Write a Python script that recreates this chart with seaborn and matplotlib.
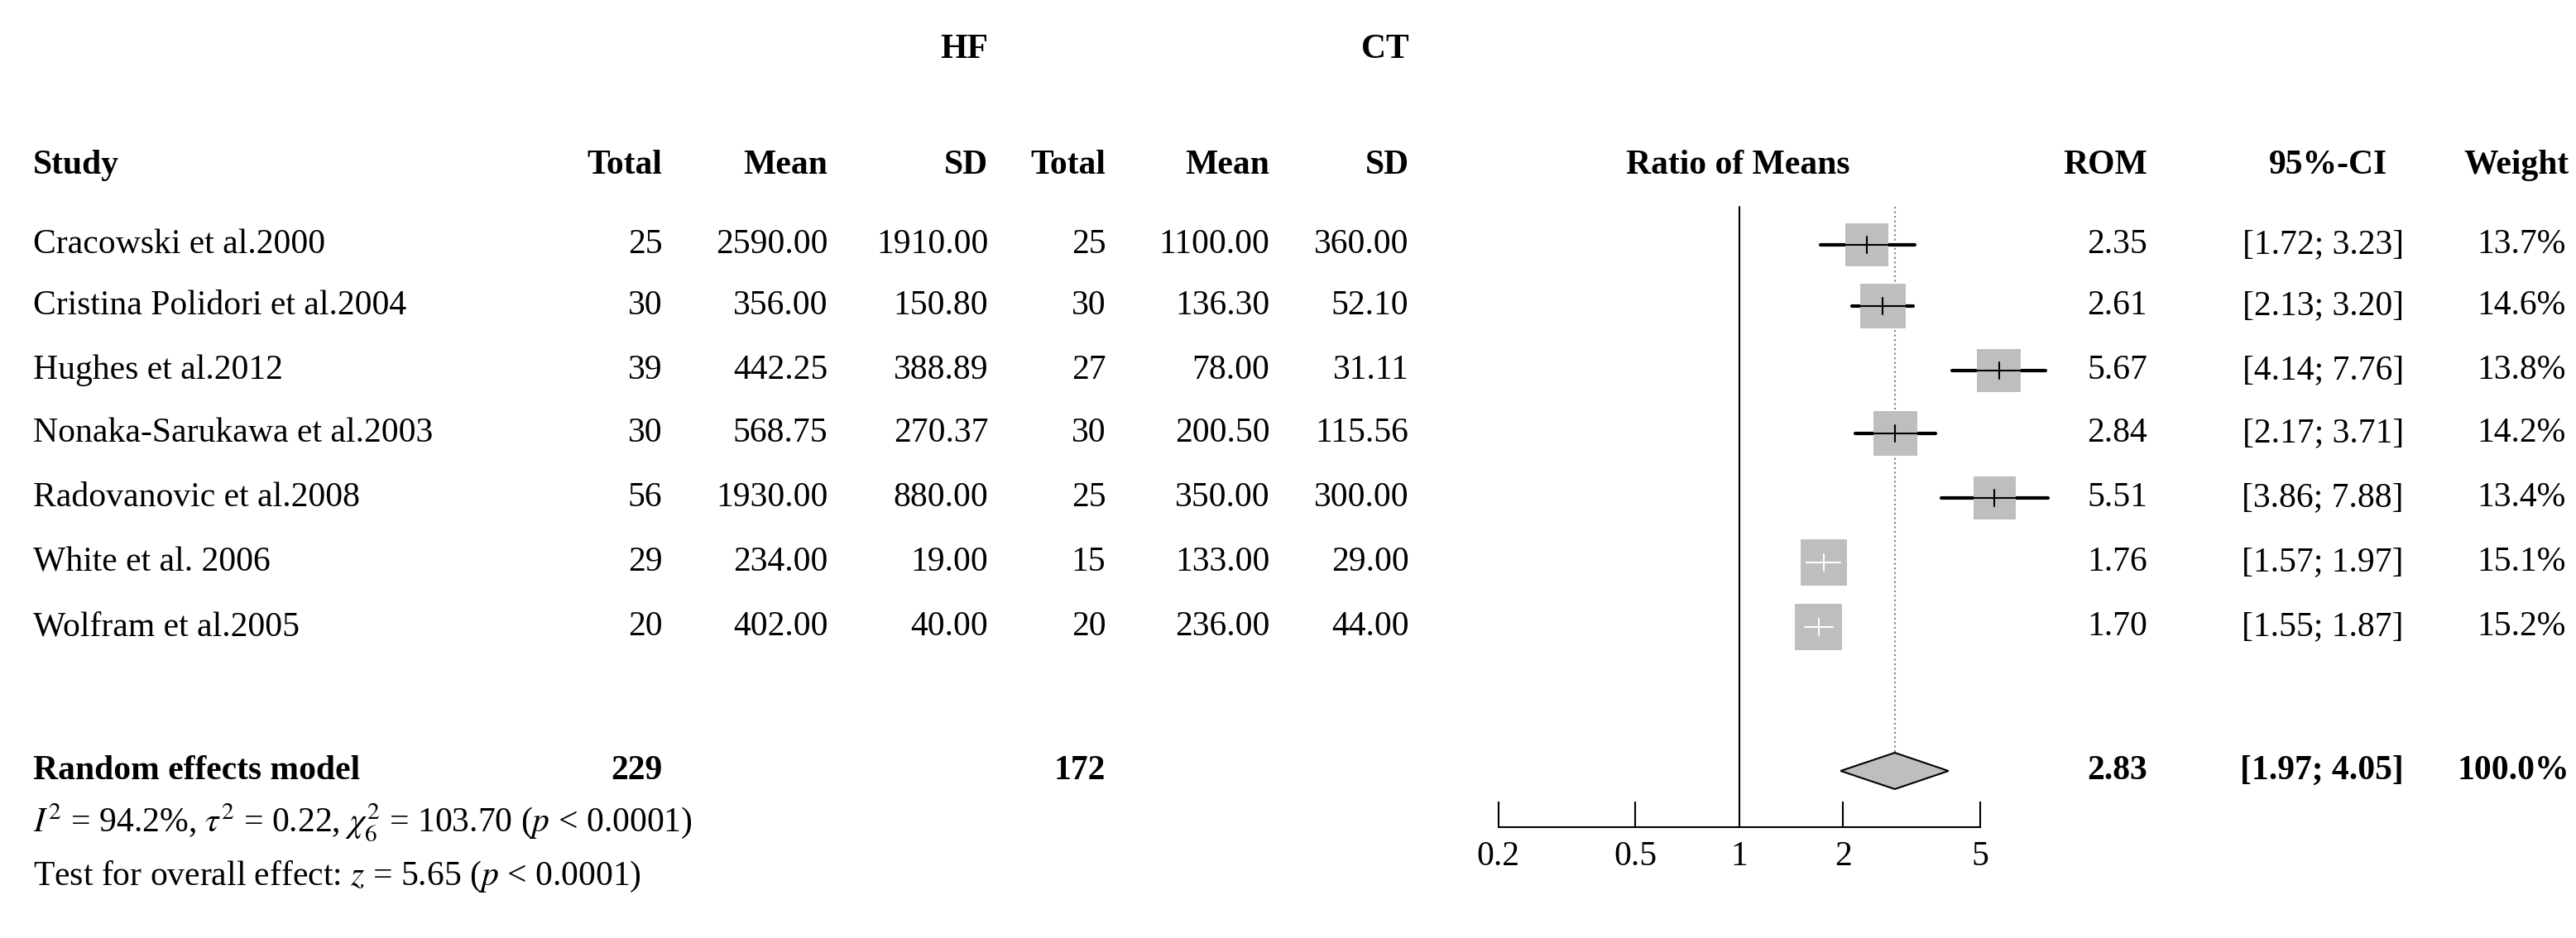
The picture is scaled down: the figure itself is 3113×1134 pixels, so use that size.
import matplotlib
matplotlib.use("Agg")
import matplotlib.pyplot as plt
import seaborn as sns
import numpy as np
import pandas as pd

studies = ["Cracowski et al.2000", "Cristina Polidori et al.2004", "Hughes et al.2012",
           "Nonaka-Sarukawa et al.2003", "Radovanovic et al.2008", "White et al. 2006",
           "Wolfram et al.2005"]
hf_total = [25, 30, 39, 30, 56, 29, 20]
hf_mean = ["2590.00", "356.00", "442.25", "568.75", "1930.00", "234.00", "402.00"]
hf_sd = ["1910.00", "150.80", "388.89", "270.37", "880.00", "19.00", "40.00"]
ct_total = [25, 30, 27, 30, 25, 15, 20]
ct_mean = ["1100.00", "136.30", "78.00", "200.50", "350.00", "133.00", "236.00"]
ct_sd = ["360.00", "52.10", "31.11", "115.56", "300.00", "29.00", "44.00"]
rom = [2.35, 2.61, 5.67, 2.84, 5.51, 1.76, 1.70]
ci_lo = [1.72, 2.13, 4.14, 2.17, 3.86, 1.57, 1.55]
ci_hi = [3.23, 3.20, 7.76, 3.71, 7.88, 1.97, 1.87]
weight = [13.7, 14.6, 13.8, 14.2, 13.4, 15.1, 15.2]
pooled = (2.83, 1.97, 4.05)
ticks = [0.2, 0.5, 1, 2, 5]
tick_labels = ["0.2", "0.5", "1", "2", "5"]

sns.set_theme(style="white")
plt.rcParams['font.family'] = ['Liberation Serif', 'DejaVu Serif']
plt.rcParams['mathtext.fontset'] = 'stix'
FS = 30

W, H = 1556, 567
fig = plt.figure(figsize=(31.13, 11.34), dpi=100)
ax = fig.add_axes([0, 0, 1, 1])
ax.set_xlim(0, W); ax.set_ylim(H, 0); ax.axis("off")

def t(x, y, s, ha="right", bold=False, **kw):
    ax.text(x, y, s, ha=ha, va="center", fontsize=FS, color="black",
            fontweight="bold" if bold else "normal", **kw)

t(597, 30, "HF", bold=True); t(851, 30, "CT", bold=True)
hy = 100
t(20, hy, "Study", ha="left", bold=True)
for x, s in [(400, "Total"), (500, "Mean"), (597, "SD"), (668, "Total"), (767, "Mean"), (851, "SD"),
             (1297, "ROM"), (1442, "95%-CI"), (1552, "Weight")]:
    t(x, hy, s, bold=True)
t(1050, hy, "Ratio of Means", ha="center", bold=True)

rows_y = [148, 185, 224, 262, 301, 340, 379]
for i, y in enumerate(rows_y):
    t(20, y, studies[i], ha="left")
    t(400, y, str(hf_total[i])); t(500, y, hf_mean[i]); t(597, y, hf_sd[i])
    t(668, y, str(ct_total[i])); t(767, y, ct_mean[i]); t(851, y, ct_sd[i])
    t(1297, y, f"{rom[i]:.2f}")
    t(1452, y, f"[{ci_lo[i]:.2f}; {ci_hi[i]:.2f}]")
    t(1550, y, f"{weight[i]:.1f}%")

my = 466
t(20, my, "Random effects model", ha="left", bold=True)
t(400, my, str(sum(hf_total)), bold=True)
t(668, my, str(sum(ct_total)), bold=True)
t(1297, my, f"{pooled[0]:.2f}", bold=True)
t(1452, my, f"[{pooled[1]:.2f}; {pooled[2]:.2f}]", bold=True)
t(1552, my, "100.0%", bold=True)
t(20, 497, r"$I^2$ = 94.2%, $\tau^2$ = 0.22, $\chi^2_6$ = 103.70 ($p$ < 0.0001)", ha="left")
t(20, 530, r"Test for overall effect: $z$ = 5.65 ($p$ < 0.0001)", ha="left")

x0, x1, ytop, ybot = 905, 1196, 120, 500
fa = fig.add_axes([x0 / W, 1 - ybot / H, (x1 - x0) / W, (ybot - ytop) / H])
fa.set_xscale("log")
fa.set_xlim(0.2, 5); fa.set_ylim(ybot, ytop)
fa.patch.set_alpha(0)
for s in ["top", "right", "left"]:
    fa.spines[s].set_visible(False)
fa.spines["bottom"].set_color("black"); fa.spines["bottom"].set_linewidth(1.5)
fa.set_yticks([])
fa.set_xticks(ticks); fa.set_xticklabels(tick_labels, fontsize=FS)
fa.xaxis.set_minor_locator(matplotlib.ticker.NullLocator())
fa.tick_params(axis="x", direction="in", length=22, width=1.5, pad=12, bottom=True, colors="black")

fa.plot([1, 1], [125, 485], color="black", lw=1.5)
fa.plot([pooled[0]] * 2, [125, 458], color="gray", ls=":", lw=1.5)

df = pd.DataFrame({"rom": rom, "y": rows_y, "w": weight})
for i, y in enumerate(rows_y):
    fa.plot([ci_lo[i], ci_hi[i]], [y, y], color="black", lw=3, zorder=2, clip_on=False)
sns.scatterplot(data=df, x="rom", y="y", size="w", sizes=(1350, 1650), marker="s",
                color="#BEBEBE", edgecolor="none", legend=False, ax=fa, zorder=3, clip_on=False)
for i, y in enumerate(rows_y):
    col = "white" if weight[i] > 15 else "black"
    inner_lo = max(ci_lo[i], rom[i] / 1.17); inner_hi = min(ci_hi[i], rom[i] * 1.17)
    fa.plot([inner_lo, inner_hi], [y, y], color=col, lw=1.5, zorder=4, clip_on=False)
    fa.plot([rom[i]] * 2, [y - 5, y + 5], color=col, lw=1.5, zorder=4, clip_on=False)
fa.set_xlabel(""); fa.set_ylabel("")
fa.fill([pooled[1], pooled[0], pooled[2], pooled[0]], [my, my - 11, my, my + 11],
        facecolor="#BEBEBE", edgecolor="black", lw=1.5, zorder=3, clip_on=False)

fig.savefig("out.png", dpi=100)
